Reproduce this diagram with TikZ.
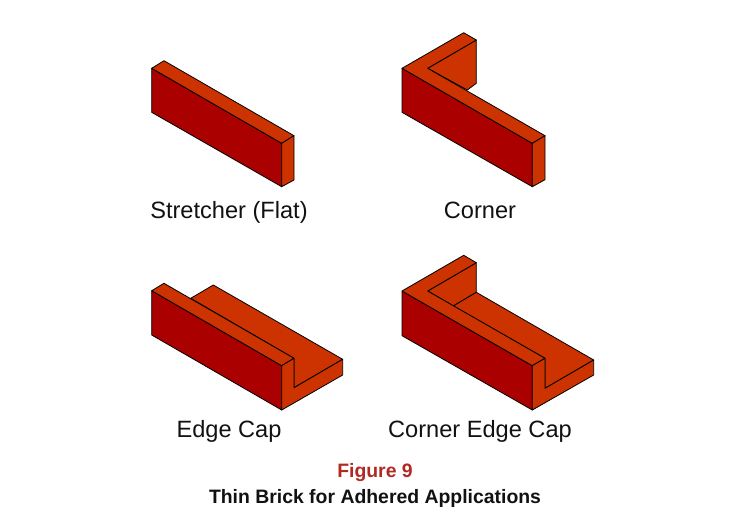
\documentclass[tikz,border=0pt]{standalone}
\usepackage{fontspec}
\setmainfont{Liberation Sans}
\usepackage{tikz}

\definecolor{brickfront}{HTML}{AA0000}
\definecolor{bricktop}{HTML}{CC3300}
\definecolor{figred}{HTML}{B02A24}
\definecolor{figtext}{HTML}{111111}

\tikzset{
    frontface/.style={fill=brickfront, draw=black, line width=0.8pt, line join=round},
    topface/.style={fill=bricktop, draw=black, line width=0.8pt, line join=round},
    unitlabel/.style={anchor=base, text=figtext, inner sep=0pt, font=\fontsize{23.6}{28}\selectfont},
    figlabel/.style={anchor=base, inner sep=0pt, font=\fontsize{19.4}{23}\selectfont\bfseries}
}

\begin{document}
\begin{tikzpicture}[x=1pt, y=-1pt]
        \useasboundingbox (0,0) rectangle (750,528);

        % stretcher
        \draw[frontface] (151.7,68.3) -- (281.7,143.3) -- (281.7,186.7) -- (151.7,112.3) -- cycle;
        \draw[topface] (151.7,68.3) -- (164,60.7) -- (294,135.7) -- (281.7,143.3) -- cycle;
        \draw[topface] (281.7,143.3) -- (294,135.7) -- (294,180) -- (281.7,186.7) -- cycle;

        % corner
        \draw[topface] (427.7,68.3) -- (476.3,40) -- (476.3,83.3) -- (467.3,90) -- cycle;
        \draw[frontface] (402,68.3) -- (532.3,143.3) -- (532.3,186.7) -- (402,112.3) -- cycle;
        \draw[topface] (402,68.3) -- (463.7,32.7) -- (476.3,40) -- (427.7,68.3) -- (545,135.7) -- (532.3,143.3) -- cycle;
        \draw[topface] (532.3,143.3) -- (545,135.7) -- (545,179.7) -- (532.3,186.7) -- cycle;

        % edge cap
        \draw[topface] (190.7,298.3) -- (213.3,285) -- (342.7,359.3) -- (294,387.7) -- (294,358.3) -- cycle;
        \draw[frontface] (151.7,290.7) -- (281.7,365.7) -- (281.7,410) -- (151.7,335) -- cycle;
        \draw[topface] (151.7,290.7) -- (164,283.3) -- (294,358.3) -- (281.7,365.7) -- cycle;
        \draw[topface] (281.7,365.7) -- (294,358.3) -- (294,387.7) -- (342.7,359.3) -- (342.7,375) -- (281.7,410) -- cycle;

        % corner edge cap
        \draw[topface] (427.7,291) -- (476.3,262.7) -- (476.3,292.3) -- (453.3,306) -- cycle;
        \draw[topface] (453.3,306) -- (476.3,292.3) -- (593.7,360) -- (545,388.3) -- (545,358.3) -- cycle;
        \draw[frontface] (402,291) -- (532.3,365.7) -- (532.3,410) -- (402,335.7) -- cycle;
        \draw[topface] (402,291) -- (463.7,255.3) -- (476.3,262.7) -- (427.7,291) -- (545,358.3) -- (532.3,365.7) -- cycle;
        \draw[topface] (532.3,365.7) -- (545,358.3) -- (545,388.3) -- (593.7,360) -- (593.7,375) -- (532.3,410) -- cycle;

        \node[unitlabel] (stretcher) at (229,218) {Stretcher (Flat)};
        \node[unitlabel] (corner) at (480,218) {Corner};
        \node[unitlabel] (edgecap) at (229,437) {Edge Cap};
        \node[unitlabel] (corneredgecap) at (480,437) {Corner Edge Cap};
        \node[figlabel, text=figred] (fignum) at (375,477) {Figure 9};
        \node[figlabel, text=figtext] (figtitle) at (375,503) {Thin Brick for Adhered Applications};
    \end{tikzpicture}
\end{document}
